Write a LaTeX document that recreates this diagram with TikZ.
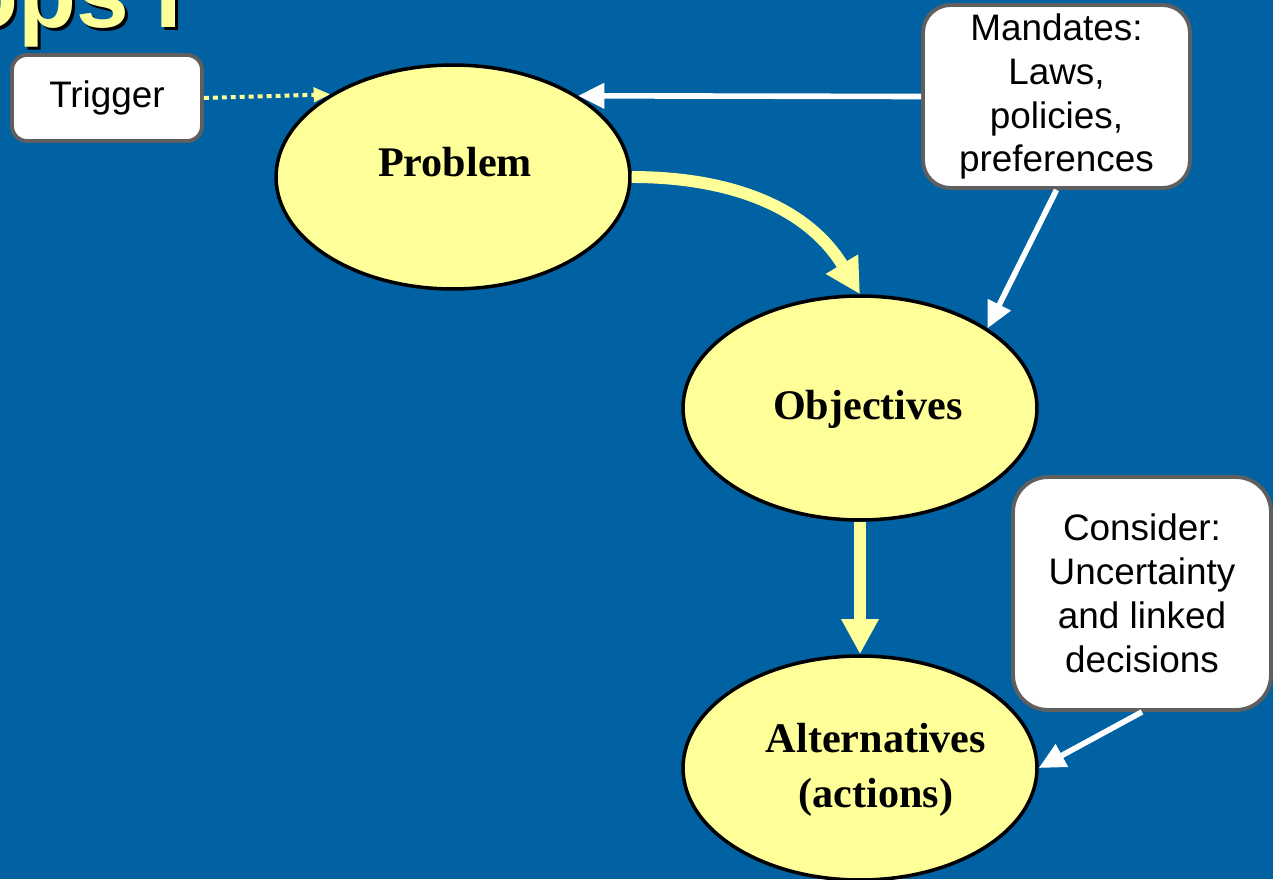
\documentclass[tikz,border=0pt]{standalone}
\usepackage{fontspec}
\setmainfont{Liberation Serif}
\newfontfamily\arialfont{Liberation Sans}
\usetikzlibrary{shapes.geometric,arrows.meta}
\definecolor{bgblue}{RGB}{0,98,163}
\definecolor{lightyel}{RGB}{255,255,153}
\definecolor{boxgray}{RGB}{95,95,95}
\begin{document}
\begin{tikzpicture}[x=0.02cm,y=-0.02cm,
  ell/.style={ellipse, draw=black, line width=2pt, fill=lightyel, minimum width=7.08cm, minimum height=4.48cm, inner sep=0pt},
  elltext/.style={font=\fontsize{24}{31}\selectfont\bfseries, align=center, text=black, inner sep=0pt},
  note/.style={draw=boxgray, line width=2.2pt, fill=white, font=\arialfont\fontsize{21}{25}\selectfont, align=center, inner sep=0pt},
  whitearrow/.style={draw=white, line width=3.2pt, -{Triangle[length=15pt,width=14pt]}},
  yelarrow/.style={draw=lightyel, line width=6.8pt, -{Triangle[length=20pt,width=20pt]}},
  dotarrow/.style={draw=lightyel, line width=2.3pt, dash pattern=on 2.8pt off 2.3pt, -{Triangle[length=9.5pt,width=8pt]}},
  titletext/.style={anchor=base west, font=\arialfont\bfseries\fontsize{54}{60}\selectfont, inner sep=0pt}
]
\useasboundingbox (0,0) rectangle (1273,879);
\clip (0,0) rectangle (1273,879);
\fill[bgblue] (0,0) rectangle (1273,879);

% title (cut off)
\node[titletext, text=black] (titleshadow) at (-37,31) {ops I};
\node[titletext, text=lightyel] (title) at (-40,28) {ops I};

% ellipses
\node[ell] (prob) at (453,177) {};
\node[ell] (obj) at (860,408) {};
\node[ell] (alt) at (860,768) {};
\node[elltext] (probt) at (455,162) {Problem};
\node[elltext] (objt) at (868,409) {Objectives};
\node[elltext] (altt) at (876,770) {Alternatives\\(actions)};

% notes
\node[note, rounded corners=0.3cm, minimum width=3.8cm, minimum height=1.72cm] (trig) at (107,98) {Trigger};
\node[note, rounded corners=0.55cm, minimum width=5.34cm, minimum height=3.66cm] (mand) at (1056.5,96.5) {Mandates:\\Laws,\\policies,\\preferences};
\node[note, rounded corners=0.7cm, minimum width=5.16cm, minimum height=4.66cm] (cons) at (1142,593.5) {Consider:\\Uncertainty\\and linked\\decisions};

% connectors
\draw[dotarrow] (trig.east) -- (prob.146.5);
\draw[whitearrow] (mand.west) -- (prob.33.6);
\draw[whitearrow] (mand.south) -- (obj.32.6);
\draw[whitearrow] (cons.south) -- (alt.east);
\draw[yelarrow] (prob.east) to[out=0, in=121] (obj.north);
\draw[yelarrow] (obj.south) -- (alt.north);
\end{tikzpicture}
\end{document}
